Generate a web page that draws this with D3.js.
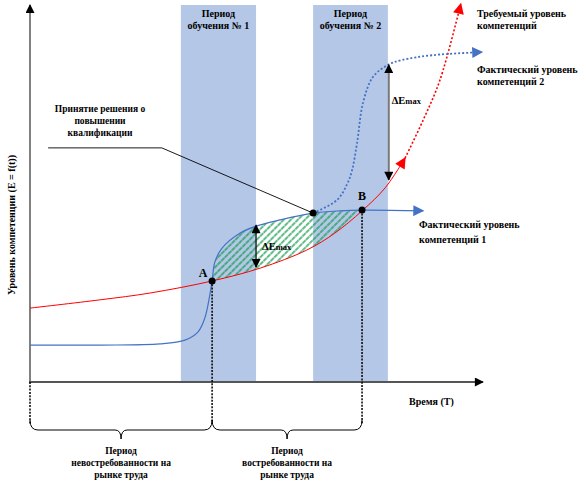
<!DOCTYPE html>
<html><head><meta charset="utf-8">
<script src="https://cdn.jsdelivr.net/npm/d3@7"></script>
<style>
html,body{margin:0;padding:0;background:#fff;}
svg{display:block;}
svg text{font-family:"Liberation Serif","DejaVu Serif","Times New Roman",serif;font-weight:bold;}
</style></head>
<body>
<svg id="chart" width="585" height="489"></svg>
<script>
// ---- data (time t, competence level E; both in relative units 0..100) ----
const bandLabels = [["Период","обучения № 1"],["Период","обучения № 2"]];
const bandStart = [33.3, 62.5];
const bandEnd   = [49.9, 79.0];

const requiredT = [0, 15.5, 26.5, 40.2, 50.8, 61.1, 67.3, 73.3, 78.4, 82.8];
const requiredE = [19.6, 21.8, 23.6, 26.8, 30.2, 35.0, 39.5, 45.4, 51.5, 59.4];
const requiredFutureT = [82.8, 86.8, 90.5, 95.1];
const requiredFutureE = [59.4, 69.5, 80.1, 100.3];

const fact1T = [0, 15.5, 28.7, 34.2, 37.1, 38.6, 39.5, 40.2, 40.8, 42.4, 46.4, 50.1, 55.2, 62.5, 68.4, 73.5, 86.8];
const fact1E = [9.8, 9.8, 10.1, 11.1, 13.3, 17.0, 21.8, 26.8, 31.8, 35.5, 39.5, 41.4, 43.0, 44.8, 45.4, 45.6, 45.4];

const fact2T = [62.5, 67.8, 70.0, 71.1, 72.2, 73.5, 75.7, 79.0, 82.1, 89.0, 99.8];
const fact2E = [44.8, 48.3, 52.5, 56.2, 63.4, 74.0, 80.9, 84.1, 85.4, 86.7, 87.5];

const pointA = {t: 40.2, E: 26.8, label: "A"};
const pointB = {t: 73.3, E: 45.6, label: "B"};
const pointDecision = {t: 62.5, E: 44.8};

const deltaE1 = {t: 49.9, top: 41.6, bottom: 30.5};
const deltaE2 = {t: 79.2, top: 84.1, bottom: 53.6};

const decisionLabel = ["Принятие решения о","повышении","квалификации"];
const yAxisLabel = "Уровень компетенции (E = f(t))";
const xAxisLabel = "Время (T)";
const requiredLabel = ["Требуемый уровень","компетенций"];
const fact2Label = ["Фактический уровень","компетенций 2"];
const fact1Label = ["Фактический уровень","компетенций 1"];
const periodLabels = [["Период","невостребованности на","рынке труда"],["Период","востребованности на","рынке труда"]];

// ---- drawing ----
const svg = d3.select("#chart");
const x = d3.scaleLinear().domain([0,100]).range([30,483]);
const y = d3.scaleLinear().domain([0,100]).range([382,5]);

const defs = svg.append("defs");
function marker(id, color, w, h){
  defs.append("marker").attr("id",id).attr("viewBox","0 0 10 10")
    .attr("refX",9).attr("refY",5).attr("markerWidth",w).attr("markerHeight",h)
    .attr("markerUnits","userSpaceOnUse").attr("orient","auto-start-reverse")
    .append("path").attr("d","M0,0 L10,5 L0,10 Z").attr("fill",color);
}
marker("arrBlack","#000",13,9);
marker("arrBlackS","#000",11,9);
marker("arrRed","#ff0000",14,11);
marker("arrBlue","#4472c4",16,11);

const hatch = defs.append("pattern").attr("id","hatch").attr("patternUnits","userSpaceOnUse")
  .attr("width",5).attr("height",5).attr("patternTransform","rotate(45)");
hatch.append("line").attr("x1",1).attr("y1",0).attr("x2",1).attr("y2",5)
  .attr("stroke","#109a4a").attr("stroke-width",1.3).attr("stroke-dasharray","3,0.6");

// bands
bandStart.forEach((s,i)=>{
  svg.append("rect").attr("x",x(s)).attr("y",y(100)).attr("width",x(bandEnd[i])-x(s))
    .attr("height",y(0)-y(100)).attr("fill","#b4c7e7");
  const cx = (x(s)+x(bandEnd[i]))/2;
  bandLabels[i].forEach((l,j)=>{
    svg.append("text").attr("x",cx).attr("y",17+j*12).attr("text-anchor","middle")
      .attr("font-size",10).text(l);
  });
});

const zip = (ts,es)=>ts.map((t,i)=>[t,es[i]]);
const line = d3.line().x(d=>x(d[0])).y(d=>y(d[1])).curve(d3.curveCatmullRom.alpha(0.5));

const redPts = zip(requiredT, requiredE);
const f1Pts = zip(fact1T, fact1E);

// hatched area between fact1 and required from A to B
const upper = f1Pts.filter(d=>d[0]>=pointA.t && d[0]<=pointB.t+0.3);
const lower = redPts.filter(d=>d[0]>=pointA.t && d[0]<=pointB.t+0.3).slice().reverse();
const areaD = line(upper) + "L" + line(lower).slice(1) + "Z";
svg.append("path").attr("d",areaD).attr("fill","url(#hatch)");

// axes
svg.append("line").attr("x1",x(0)).attr("y1",y(0)).attr("x2",x(0)).attr("y2",y(100))
  .attr("stroke","#808080").attr("stroke-width",2).attr("marker-end","url(#arrBlack)");
svg.append("line").attr("x1",x(0)-1).attr("y1",y(0)).attr("x2",x(100)).attr("y2",y(0))
  .attr("stroke","#555").attr("stroke-width",2).attr("marker-end","url(#arrBlack)");

// required level
svg.append("path").attr("d",line(redPts)).attr("fill","none").attr("stroke","#ff0000")
  .attr("stroke-width",1).attr("marker-end","url(#arrRed)");
svg.append("path").attr("d",line(zip(requiredFutureT,requiredFutureE))).attr("fill","none")
  .attr("stroke","#ff0000").attr("stroke-width",1.6).attr("stroke-dasharray","2,2")
  .attr("marker-end","url(#arrRed)");

// fact 1
svg.append("path").attr("d",line(f1Pts)).attr("fill","none").attr("stroke","#4472c4")
  .attr("stroke-width",1.2).attr("marker-end","url(#arrBlue)");
// fact 2
svg.append("path").attr("d",line(zip(fact2T,fact2E))).attr("fill","none").attr("stroke","#4472c4")
  .attr("stroke-width",1.8).attr("stroke-dasharray","2,2").attr("marker-end","url(#arrBlue)");

// delta arrows
svg.append("line").attr("x1",x(deltaE1.t)).attr("x2",x(deltaE1.t))
  .attr("y1",y(deltaE1.top)).attr("y2",y(deltaE1.bottom)).attr("stroke","#000").attr("stroke-width",1.2)
  .attr("marker-start","url(#arrBlackS)").attr("marker-end","url(#arrBlackS)");
svg.append("line").attr("x1",x(deltaE2.t)).attr("x2",x(deltaE2.t))
  .attr("y1",y(deltaE2.top)).attr("y2",y(deltaE2.bottom)).attr("stroke","#777").attr("stroke-width",2)
  .attr("marker-start","url(#arrBlackS)").attr("marker-end","url(#arrBlackS)");
function deltaLabel(px,py){
  const t = svg.append("text").attr("x",px).attr("y",py).attr("font-size",10.5);
  t.append("tspan").text("ΔE");
  t.append("tspan").attr("font-size",8.5).text("max");
}
deltaLabel(x(deltaE1.t)+6, 250);
deltaLabel(x(deltaE2.t)+3, 104);

// leader line for decision
svg.append("path").attr("d",`M${x(4)},${y(62.1)} L${x(29.1)},${y(62.1)} L${x(pointDecision.t)},${y(pointDecision.E)}`)
  .attr("fill","none").attr("stroke","#000").attr("stroke-width",0.9);
decisionLabel.forEach((l,j)=>{
  svg.append("text").attr("x",100).attr("y",112+j*12).attr("text-anchor","middle").attr("font-size",9.5).text(l);
});

// dotted verticals and braces
const braceTop = 420, braceY = 430, braceTip = 439;
[0, pointA.t, pointB.t].forEach((t,i)=>{
  const yStart = i===0 ? y(0) : y(i===1?pointA.E:pointB.E);
  svg.append("line").attr("x1",x(t)).attr("x2",x(t)).attr("y1",yStart).attr("y2",braceTop+4)
    .attr("stroke","#000").attr("stroke-width",1.5).attr("stroke-dasharray","2,1.3");
});
function brace(x0,x1){
  const m=(x0+x1)/2;
  return `M${x0},${braceTop} Q${x0},${braceY} ${x0+8},${braceY} L${m-6},${braceY} Q${m},${braceY} ${m},${braceTip} Q${m},${braceY} ${m+6},${braceY} L${x1-8},${braceY} Q${x1},${braceY} ${x1},${braceTop}`;
}
const bounds = [[0,pointA.t],[pointA.t,pointB.t]];
bounds.forEach((b,i)=>{
  svg.append("path").attr("d",brace(x(b[0]),x(b[1]))).attr("fill","none").attr("stroke","#000").attr("stroke-width",1);
  const cx=(x(b[0])+x(b[1]))/2;
  periodLabels[i].forEach((l,j)=>{
    svg.append("text").attr("x",cx).attr("y",454+j*12).attr("text-anchor","middle").attr("font-size",9.5).text(l);
  });
});

// points
[pointA,pointB,pointDecision].forEach(p=>{
  svg.append("circle").attr("cx",x(p.t)).attr("cy",y(p.E)).attr("r",3.5).attr("fill","#000");
});
svg.append("text").attr("x",x(pointA.t)-9).attr("y",y(pointA.E)-4).attr("text-anchor","middle").attr("font-size",12).text(pointA.label);
svg.append("text").attr("x",x(pointB.t)).attr("y",y(pointB.E)-10).attr("text-anchor","middle").attr("font-size",12).text(pointB.label);

// axis labels
svg.append("text").attr("transform",`translate(15,225) rotate(-90)`).attr("text-anchor","middle")
  .attr("font-size",10).text(yAxisLabel);
svg.append("text").attr("x",409).attr("y",405).attr("font-size",10).text(xAxisLabel);

// series labels
requiredLabel.forEach((l,j)=>svg.append("text").attr("x",477).attr("y",17+j*11.5).attr("font-size",10).text(l));
fact2Label.forEach((l,j)=>svg.append("text").attr("x",477).attr("y",73+j*12).attr("font-size",10).text(l));
fact1Label.forEach((l,j)=>svg.append("text").attr("x",419).attr("y",228+j*15).attr("font-size",10).text(l));
</script>
</body></html>
